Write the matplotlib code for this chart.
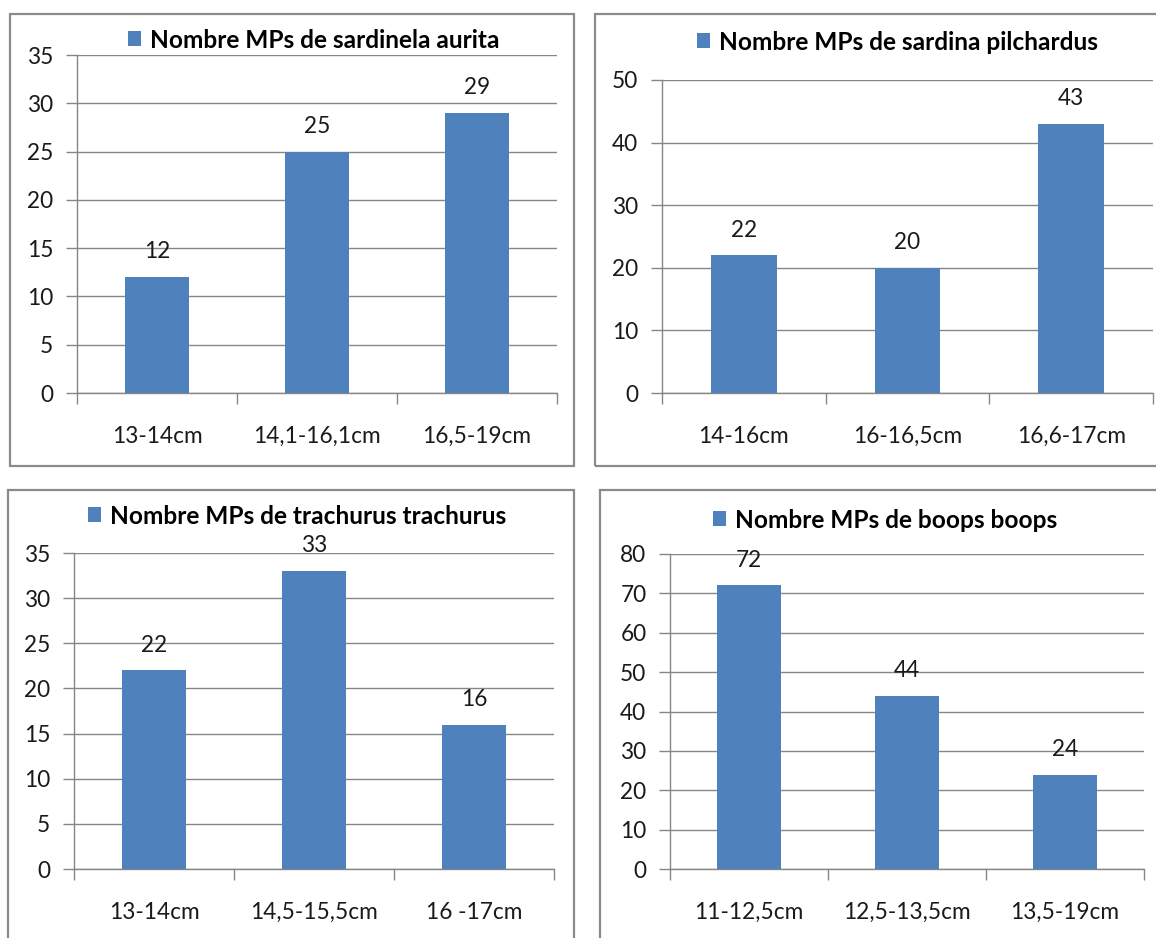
import matplotlib.pyplot as plt
from matplotlib.patches import Rectangle
from matplotlib.font_manager import FontProperties

plt.rcParams['font.family'] = ['Lato', 'DejaVu Sans']

# data for the four panels
titles = [
    'Nombre MPs de sardinela aurita',
    'Nombre MPs de sardina pilchardus',
    'Nombre MPs de trachurus trachurus',
    'Nombre MPs de boops boops',
]
cats_aurita = ['13-14cm', '14,1-16,1cm', '16,5-19cm']
vals_aurita = [12, 25, 29]
cats_pilchardus = ['14-16cm', '16-16,5cm', '16,6-17cm']
vals_pilchardus = [22, 20, 43]
cats_trachurus = ['13-14cm', '14,5-15,5cm', '16 -17cm']
vals_trachurus = [22, 33, 16]
cats_boops = ['11-12,5cm', '12,5-13,5cm', '13,5-19cm']
vals_boops = [72, 44, 24]

ymax = [35, 50, 35, 80]
ystep = [5, 10, 5, 10]

W, H = 1156, 938
fig = plt.figure(figsize=(W / 100, H / 100), dpi=100)

bar_color = '#4F81BD'
grid_color = '#868686'
border_color = '#8a8a8a'
text_color = '#1a1a1a'
fs = 16.3

# layout in pixels: axes box, panel border, title position (left x, center y)
axes_px = [(77, 55, 557, 393), (662, 80, 1153, 393), (74, 553, 554, 869), (670, 554, 1144, 869)]
border_px = [(10, 14, 574, 466), (595, 14, 1162, 466), (8, 490, 574, 945), (600, 490, 1162, 945)]
title_px = [(128, 40), (697, 42), (88, 516), (713, 520)]

data = [(cats_aurita, vals_aurita), (cats_pilchardus, vals_pilchardus),
        (cats_trachurus, vals_trachurus), (cats_boops, vals_boops)]

bold = FontProperties(family=['Lato', 'DejaVu Sans'], weight='bold', size=17.6)

for i, (cats, vals) in enumerate(data):
    x0, y0, x1, y1 = border_px[i]
    fig.patches.append(Rectangle((x0 / W, 1 - y1 / H), (x1 - x0) / W, (y1 - y0) / H,
                                 transform=fig.transFigure, fill=False,
                                 edgecolor=border_color, linewidth=1.6))

    ax0, ay0, ax1, ay1 = axes_px[i]
    ax = fig.add_axes([ax0 / W, 1 - ay1 / H, (ax1 - ax0) / W, (ay1 - ay0) / H])
    pos = list(range(len(cats)))
    bars = ax.bar(pos, vals, width=0.4, color=bar_color, zorder=3)
    for p, v in zip(pos, vals):
        ax.annotate(str(v), (p, v), xytext=(0, 13.5), textcoords='offset points',
                    ha='center', va='baseline', fontsize=fs, color=text_color)

    ax.set_xlim(-0.5, len(cats) - 0.5)
    ax.set_ylim(0, ymax[i])
    ax.set_yticks(range(0, ymax[i] + 1, ystep[i]))
    ax.set_xticks([-0.5, 0.5, 1.5, 2.5])
    ax.set_xticklabels([])
    ax.set_xticks(pos, minor=True)
    ax.set_xticklabels(cats, minor=True)
    ax.tick_params(axis='x', which='major', length=8, color=grid_color, width=1)
    ax.tick_params(axis='x', which='minor', length=0, pad=24, labelsize=fs, labelcolor=text_color)
    ax.tick_params(axis='y', length=8, color=grid_color, width=1, pad=9, labelsize=fs, labelcolor=text_color)
    ax.grid(axis='y', color=grid_color, linewidth=1, zorder=0)
    for s in ['top', 'right']:
        ax.spines[s].set_visible(False)
    for s in ['left', 'bottom']:
        ax.spines[s].set_color(grid_color)
        ax.spines[s].set_linewidth(1)
    ax.set_facecolor('none')

    tx, ty = title_px[i]
    ax.legend([bars], [titles[i]], loc='center left', bbox_to_anchor=(tx / W, 1 - ty / H),
              bbox_transform=fig.transFigure, frameon=False, prop=bold,
              handlelength=0.55, handleheight=0.55, handletextpad=0.33,
              borderpad=0, borderaxespad=0)

fig.savefig('out.png', dpi=100)
